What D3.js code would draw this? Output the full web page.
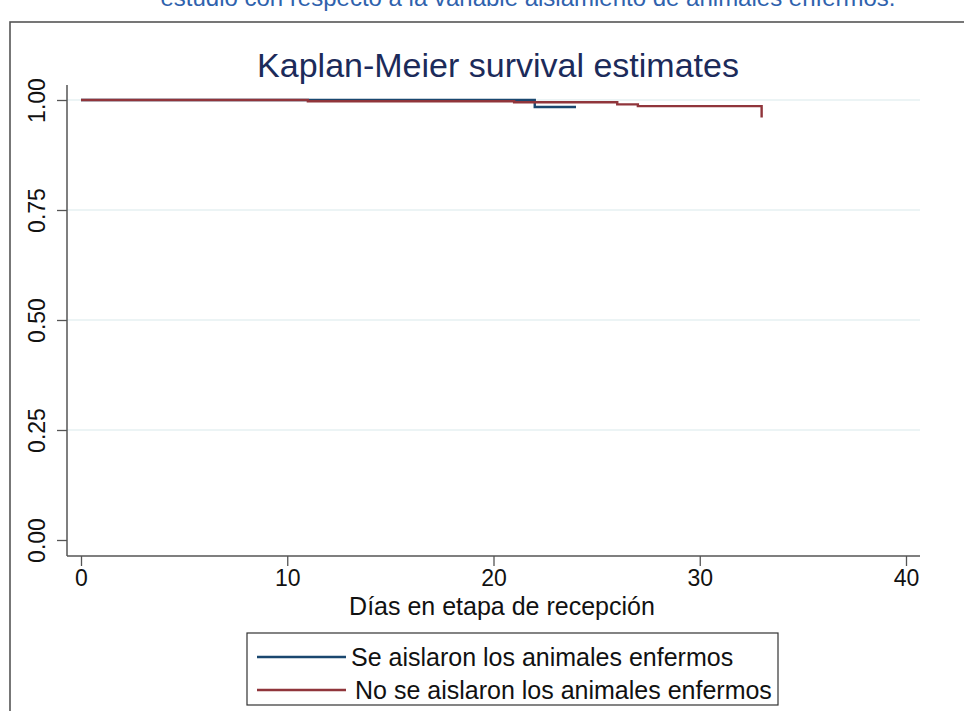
<!DOCTYPE html>
<html>
<head>
<meta charset="utf-8">
<script src="https://cdn.jsdelivr.net/npm/d3@7"></script>
<style>
  html, body { margin: 0; padding: 0; background: #fff; }
  svg { display: block; }
  text { font-family: "Liberation Sans", Arial, sans-serif; }
</style>
</head>
<body>
<svg id="chart" width="964" height="711"></svg>
<script>
// ---- data ----
const caption = "estudio con respecto a la variable aislamiento de animales enfermos.";
const title = "Kaplan-Meier survival estimates";
const xTitle = "Días en etapa de recepción";
const seriesNames = ["Se aislaron los animales enfermos", "No se aislaron los animales enfermos"];
// step functions: time (days) and survival estimate after that time
const aisladosTime = [0, 22, 24];
const aisladosSurv = [1.0, 0.984, 0.984];
const noAisladosTime = [0, 11, 21, 26, 27, 33, 33];
const noAisladosSurv = [1.0, 0.997, 0.995, 0.990, 0.986, 0.986, 0.960];
const xTicks = [0, 10, 20, 30, 40];
const yTicks = [0, 0.25, 0.5, 0.75, 1.0];
const colors = ["#1a476f", "#90353b"];

const svg = d3.select("#chart");

// outer frame
svg.append("rect").attr("x", 10).attr("y", 22).attr("width", 980).attr("height", 720)
  .attr("fill", "none").attr("stroke", "#555").attr("stroke-width", 1.6);

// caption at top (partly cut off, as in the reference)
svg.append("text").attr("x", 528).attr("y", 6).attr("text-anchor", "middle")
  .attr("font-size", 24).attr("fill", "#2f62ad").text(caption);

const x = d3.scaleLinear().domain([0, 40]).range([81, 906]);
const y = d3.scaleLinear().domain([0, 1]).range([540, 100]);

const plotLeft = 67, plotRight = 920, plotTop = 85, plotBottom = 556;

// gridlines
svg.append("g").selectAll("line").data(yTicks.filter(d => d > 0)).join("line")
  .attr("x1", plotLeft).attr("x2", plotRight)
  .attr("y1", d => y(d)).attr("y2", d => y(d))
  .attr("stroke", "#e6f0f2").attr("stroke-width", 1.6);

// title
svg.append("text").attr("x", 498).attr("y", 77).attr("text-anchor", "middle")
  .attr("font-size", 34).attr("fill", "#1c2b5a").text(title);

// y axis
const yAxis = d3.axisLeft(y).tickValues(yTicks).tickFormat(d3.format(".2f")).tickSize(10).tickPadding(6);
const gy = svg.append("g").attr("transform", `translate(${plotLeft},0)`).call(yAxis);
gy.select(".domain").remove();
gy.selectAll(".tick line").attr("stroke", "#555").attr("stroke-width", 1.3);
gy.selectAll(".tick text")
  .attr("font-size", 23).attr("fill", "#111")
  .attr("transform", "rotate(-90)")
  .attr("x", 0).attr("y", -22).attr("dy", 0)
  .attr("text-anchor", "middle");
svg.append("line").attr("x1", plotLeft).attr("x2", plotLeft).attr("y1", plotTop).attr("y2", plotBottom)
  .attr("stroke", "#555").attr("stroke-width", 1.5);

// x axis
const xAxis = d3.axisBottom(x).tickValues(xTicks).tickFormat(d3.format("d")).tickSize(10).tickPadding(4);
const gx = svg.append("g").attr("transform", `translate(0,${plotBottom})`).call(xAxis);
gx.select(".domain").remove();
gx.selectAll(".tick line").attr("stroke", "#555").attr("stroke-width", 1.3);
gx.selectAll(".tick text").attr("font-size", 23).attr("fill", "#111");
svg.append("line").attr("x1", plotLeft).attr("x2", plotRight).attr("y1", plotBottom).attr("y2", plotBottom)
  .attr("stroke", "#555").attr("stroke-width", 1.5);

svg.append("text").attr("x", 502).attr("y", 615).attr("text-anchor", "middle")
  .attr("font-size", 25).attr("fill", "#111").text(xTitle);

// KM curves
const line = d3.line().x(d => x(d[0])).y(d => y(d[1])).curve(d3.curveStepAfter);
const series = [
  d3.zip(aisladosTime, aisladosSurv),
  d3.zip(noAisladosTime, noAisladosSurv)
];
series.forEach((s, i) => {
  svg.append("path").datum(s).attr("d", line)
    .attr("fill", "none").attr("stroke", colors[i]).attr("stroke-width", 2.4);
});

// legend
const lg = svg.append("g");
lg.append("rect").attr("x", 247).attr("y", 633).attr("width", 531).attr("height", 72)
  .attr("fill", "#fff").attr("stroke", "#333").attr("stroke-width", 1.2);
const legY = [657, 690];
const legTX = [351, 355];
seriesNames.forEach((n, i) => {
  lg.append("line").attr("x1", 257).attr("x2", 346).attr("y1", legY[i]).attr("y2", legY[i])
    .attr("stroke", colors[i]).attr("stroke-width", 2.4);
  lg.append("text").attr("x", legTX[i]).attr("y", legY[i] + 9).attr("font-size", 25)
    .attr("fill", "#111").text(n);
});
</script>
</body>
</html>
